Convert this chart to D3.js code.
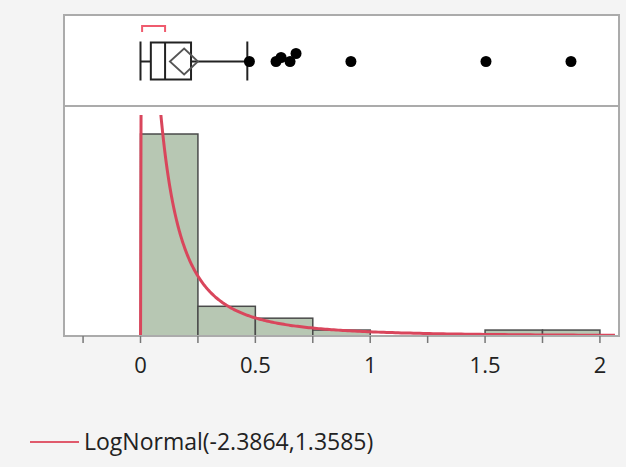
<!DOCTYPE html>
<html>
<head>
<meta charset="utf-8">
<script src="https://cdn.jsdelivr.net/npm/d3@7"></script>
<style>
  html, body { margin: 0; padding: 0; background: #f4f4f4; }
  svg { display: block; }
  text { font-family: "Open Sans", "Noto Sans", sans-serif; fill: #222; }
</style>
</head>
<body>
<svg id="chart" width="626" height="467"></svg>
<script>
// Histogram bins (width 0.25) and their counts
const binStarts = [0, 0.25, 0.5, 0.75, 1.0, 1.25, 1.5, 1.75];
const binWidth = 0.25;
const binCounts = [34, 5, 3, 1, 0, 0, 1, 1];

// Outlier box plot summary
const whiskerLow = 0.0;
const q1 = 0.045;
const median = 0.107;
const q3 = 0.22;
const whiskerHigh = 0.465;
const meanValue = 0.19;
const meanCI = [0.128, 0.25];
const shortestHalf = [0.007, 0.107];
const outliers = [0.474, 0.59, 0.612, 0.651, 0.677, 0.916, 1.504, 1.874];
const outlierJitter = [0, 0, -4, 0, -8, 0, 0, 0];

// Axis ticks
const majorTicks = [0, 0.5, 1, 1.5, 2];
const minorTicks = [-0.25, 0.25, 0.75, 1.25, 1.75];

// Fitted LogNormal(mu, sigma)
const mu = -2.3864;
const sigma = 1.3585;
const legendLabel = "LogNormal(-2.3864,1.3585)";

const svg = d3.select("#chart");
const plotL = 64, plotR = 619, plotT = 15, plotSplit = 106, plotB = 336;

const x = d3.scaleLinear().domain([-0.333, 2.083]).range([plotL, plotR]);
const y = d3.scaleLinear().domain([0, 37.2]).range([plotB, 115]);

// panel backgrounds
svg.append("rect").attr("x", plotL).attr("y", plotT)
  .attr("width", plotR - plotL).attr("height", plotB - plotT)
  .attr("fill", "#fff");

// histogram bars
svg.append("g").selectAll("rect")
  .data(binStarts.map((s, i) => ({ s, c: binCounts[i] })).filter(d => d.c > 0))
  .join("rect")
  .attr("x", d => x(d.s))
  .attr("y", d => y(d.c))
  .attr("width", d => x(d.s + binWidth) - x(d.s))
  .attr("height", d => y(0) - y(d.c))
  .attr("fill", "#b7c7b3")
  .attr("stroke", "#4a4a4a")
  .attr("stroke-width", 1.5);

// fitted density scaled to counts
const total = d3.sum(binCounts);
const pdf = v => Math.exp(-Math.pow(Math.log(v) - mu, 2) / (2 * sigma * sigma)) /
  (v * sigma * Math.sqrt(2 * Math.PI));
const xs = [];
for (let e = -6; e <= Math.log10(2.083); e += 0.005) xs.push(Math.pow(10, e));
svg.append("clipPath").attr("id", "histClip")
  .append("rect").attr("x", plotL).attr("y", 115)
  .attr("width", plotR - plotL).attr("height", plotB - 115);
svg.append("path")
  .datum(xs)
  .attr("clip-path", "url(#histClip)")
  .attr("fill", "none")
  .attr("stroke", "#d9465c")
  .attr("stroke-width", 3)
  .attr("d", d3.line().x(v => x(v)).y(v => y(total * binWidth * pdf(v))));

// box plot
const cy = 61.5;
const g = svg.append("g").attr("stroke", "#222").attr("stroke-width", 2).attr("fill", "none");
g.append("line").attr("x1", x(whiskerLow)).attr("x2", x(q1)).attr("y1", cy).attr("y2", cy);
g.append("line").attr("x1", x(q3)).attr("x2", x(whiskerHigh)).attr("y1", cy).attr("y2", cy);
g.append("line").attr("x1", x(whiskerLow)).attr("x2", x(whiskerLow)).attr("y1", cy - 20).attr("y2", cy + 19);
g.append("line").attr("x1", x(whiskerHigh)).attr("x2", x(whiskerHigh)).attr("y1", cy - 20).attr("y2", cy + 19);
g.append("rect").attr("x", x(q1)).attr("y", cy - 19).attr("width", x(q3) - x(q1)).attr("height", 37);
g.append("line").attr("x1", x(median)).attr("x2", x(median)).attr("y1", cy - 19).attr("y2", cy + 18);
svg.append("path")
  .attr("fill", "none").attr("stroke", "#555").attr("stroke-width", 1.8)
  .attr("d", `M${x(meanCI[0])},${cy} L${x(meanValue)},${cy - 13} L${x(meanCI[1])},${cy} L${x(meanValue)},${cy + 13} Z`);
svg.append("path")
  .attr("fill", "none").attr("stroke", "#ef5b6e").attr("stroke-width", 2)
  .attr("d", `M${x(shortestHalf[0])},32 V26 H${x(shortestHalf[1])} V32`);
svg.append("g").selectAll("circle").data(outliers).join("circle")
  .attr("cx", d => x(d))
  .attr("cy", (d, i) => cy + outlierJitter[i])
  .attr("r", 5.5)
  .attr("fill", "#000");

// panel frames
const frame = svg.append("g").attr("fill", "none").attr("stroke", "#ababab").attr("stroke-width", 2);
frame.append("rect").attr("x", plotL).attr("y", plotT).attr("width", plotR - plotL).attr("height", plotSplit - plotT);
frame.append("rect").attr("x", plotL).attr("y", plotSplit).attr("width", plotR - plotL).attr("height", plotB - plotSplit);

// x axis
const axis = svg.append("g").attr("transform", `translate(0,${plotB})`);
axis.selectAll("line.major").data(majorTicks).join("line")
  .attr("class", "major")
  .attr("x1", d => x(d)).attr("x2", d => x(d)).attr("y1", 0).attr("y2", 7)
  .attr("stroke", "#777").attr("stroke-width", 1.5);
axis.selectAll("line.minor").data(minorTicks).join("line")
  .attr("class", "minor")
  .attr("x1", d => x(d)).attr("x2", d => x(d)).attr("y1", 0).attr("y2", 7)
  .attr("stroke", "#777").attr("stroke-width", 1.5);
axis.selectAll("text").data(majorTicks).join("text")
  .attr("x", d => x(d)).attr("y", 37)
  .attr("text-anchor", "middle")
  .attr("font-size", 22)
  .text(d => d3.format("")(d));

// legend
svg.append("line").attr("x1", 30).attr("x2", 79).attr("y1", 442).attr("y2", 442)
  .attr("stroke", "#e05a6c").attr("stroke-width", 2);
svg.append("text").attr("x", 84).attr("y", 450).attr("font-size", 23).text(legendLabel);
</script>
</body>
</html>
